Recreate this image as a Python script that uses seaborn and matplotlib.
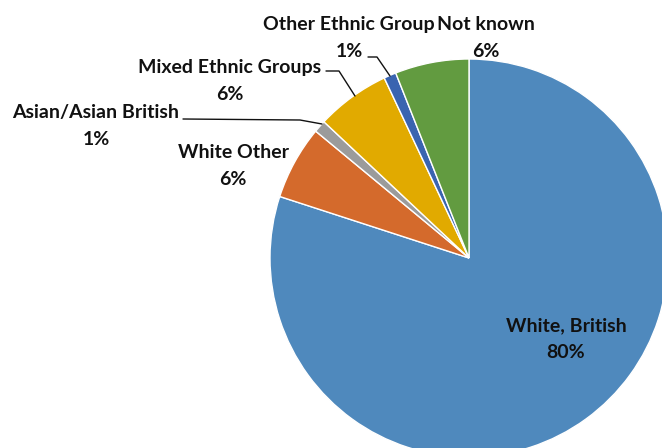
import matplotlib
matplotlib.use("Agg")
import matplotlib.pyplot as plt
import seaborn as sns

# Ethnicity breakdown (percent), clockwise from 12 o'clock
categories = ["White, British", "White Other", "Asian/Asian British",
              "Mixed Ethnic Groups", "Other Ethnic Group", "Not known"]
shares = [80, 6, 1, 6, 1, 6]
colors = ["#4F89BD", "#D46A2C", "#9B9B9B", "#E1AA00", "#3A64B0", "#629B40"]

sns.set_theme(style="white")
plt.rcParams["font.family"] = ["Lato", "DejaVu Sans"]

W, H = 662, 448
fig = plt.figure(figsize=(W / 100, H / 100), dpi=100)
ax = fig.add_axes([0, 0, 1, 1])

cx, cy, r = 469, 258, 199
wedges, _ = ax.pie(shares, colors=colors, startangle=90, counterclock=False,
                   center=(cx, cy), radius=r, frame=True,
                   wedgeprops=dict(edgecolor="white", linewidth=1))
ax.set_xlim(0, W)
ax.set_ylim(H, 0)
ax.set_aspect("equal")
ax.axis("off")
# y axis is inverted, so flip wedges vertically around the centre
for w in wedges:
    t1, t2 = w.theta1, w.theta2
    w.set_theta1(-t2)
    w.set_theta2(-t1)

label_pos = {
    "White, British": (566, 339),
    "White Other": (233, 166),
    "Asian/Asian British": (96, 126),
    "Mixed Ethnic Groups": (230, 81),
    "Other Ethnic Group": (349, 38),
    "Not known": (486, 38),
}
for name, val in zip(categories, shares):
    x, y = label_pos[name]
    ax.text(x, y, f"{name}\n{val}%", ha="center", va="center",
            fontsize=14, fontweight="bold", color="#111111",
            linespacing=1.75)

# leader lines for the thin slices
leaders = [
    [(368, 57), (377, 57), (390, 76)],
    [(326, 71), (339, 71), (355, 96)],
    [(183, 119), (300, 120), (322, 124)],
]
for pts in leaders:
    xs, ys = zip(*pts)
    ax.plot(xs, ys, color="#111111", lw=1)

fig.savefig("out.png", dpi=100)
